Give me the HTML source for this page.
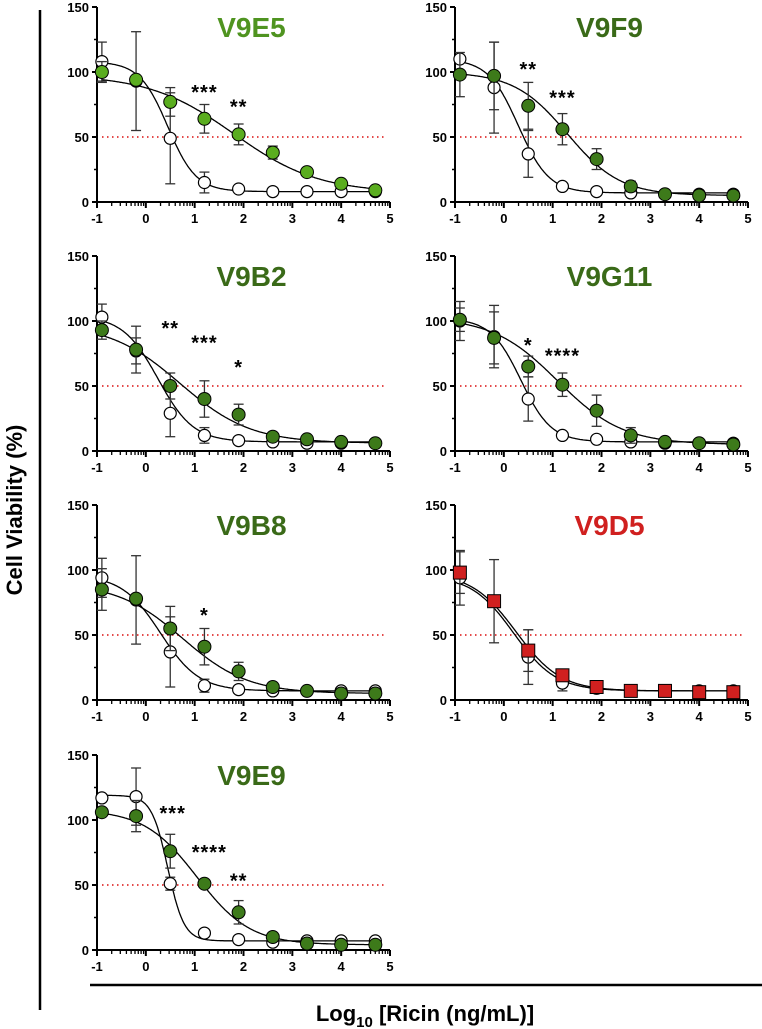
<!DOCTYPE html>
<html><head><meta charset="utf-8">
<style>
html,body{margin:0;padding:0;background:#fff;}
svg{display:block;font-family:"Liberation Sans",Arial,sans-serif;}
</style></head>
<body>
<svg id="fig" width="762" height="1029" viewBox="0 0 762 1029" xmlns="http://www.w3.org/2000/svg">
<line x1="40" y1="10" x2="40" y2="1010" stroke="#000" stroke-width="2.5"/>
<line x1="90" y1="985" x2="762" y2="985" stroke="#000" stroke-width="2.5"/>
<text x="22" y="510" transform="rotate(-90 22 510)" text-anchor="middle" font-size="22" font-weight="bold">Cell Viability (%)</text>
<text x="425" y="1021" text-anchor="middle" font-size="22" font-weight="bold">Log<tspan font-size="15" dy="6">10</tspan><tspan dy="-6"> [Ricin (ng/mL)]</tspan></text>
</svg>
<script>
const xVals=[-0.9,-0.2,0.5,1.2,1.9,2.6,3.3,4.0,4.7];
const yTicks=[0,50,100,150];
const xTicks=[-1,0,1,2,3,4,5];
const panelNames=["V9E5","V9F9","V9B2","V9G11","V9B8","V9D5","V9E9"];
const ctrlE5=[108,93,49,15,10,8,8,8,8];
const ctrlE5Err=[15,38,35,8,0,0,0,0,0];
const trtE5=[100,94,77,64,52,38,23,14,9];
const trtE5Err=[8,0,11,11,8,5,0,0,0];
const ctrlF9=[110,88,37,12,8,7,6,6,6];
const ctrlF9Err=[0,35,18,0,0,0,0,0,0];
const trtF9=[98,97,74,56,33,12,6,5,5];
const trtF9Err=[17,26,18,12,8,4,0,0,0];
const ctrlB2=[103,77,29,12,8,7,6,6,6];
const ctrlB2Err=[10,10,18,6,0,0,0,0,0];
const trtB2=[93,78,50,40,28,11,9,7,6];
const trtB2Err=[7,18,10,14,8,0,0,0,0];
const ctrlG11=[100,88,40,12,9,7,6,6,6];
const ctrlG11Err=[15,24,17,0,0,0,0,0,0];
const trtG11=[101,87,65,51,31,12,7,6,5];
const trtG11Err=[9,20,8,9,12,6,0,0,0];
const ctrlB8=[94,77,37,11,8,7,7,7,7];
const ctrlB8Err=[15,34,27,5,0,0,0,0,0];
const trtB8=[85,78,55,41,22,10,7,5,5];
const trtB8Err=[16,0,17,14,7,0,0,0,0];
const ctrlD5=[94,76,33,13,9,7,7,7,7];
const ctrlD5Err=[21,32,21,6,0,0,0,0,0];
const trtD5=[98,76,38,19,10,7,7,6,6];
const trtD5Err=[16,0,16,0,0,0,0,0,0];
const ctrlE9=[117,118,51,13,8,6,7,7,7];
const ctrlE9Err=[0,22,5,0,0,0,0,0,0];
const trtE9=[106,103,76,51,29,10,5,4,4];
const trtE9Err=[0,12,13,0,9,0,0,0,0];
// 4PL fits: [top, bottom, logEC50, hill]
const ctrlFits=[[108,8,0.45,1.5],[110,7,0.3,1.4],[104,7,0.25,1.2],[102,7,0.35,1.4],[96,7,0.3,1.1],[96,7,0.2,1.0],[119,7,0.45,2.6]];
const trtFits=[[98,7,1.8,0.5],[100,5,1.3,0.8],[98,6,0.7,0.6],[103,5,1.1,0.65],[90,5,0.75,0.65],[98,7,0.25,0.95],[108,4,1.05,0.8]];
const starLabels=[["***","**"],["**","***"],["**","***","*"],["*","****"],["*"],[],["***","****","**"]];
const starX=[[1.2,1.9],[0.5,1.2],[0.5,1.2,1.9],[0.5,1.2],[1.2],[],[0.55,1.3,1.9]];
const starY=[[86,75],[104,82],[96,85,66],[83,75],[67],[],[107,77,55]];
const ctrlSets=[ctrlE5,ctrlF9,ctrlB2,ctrlG11,ctrlB8,ctrlD5,ctrlE9];
const ctrlErrs=[ctrlE5Err,ctrlF9Err,ctrlB2Err,ctrlG11Err,ctrlB8Err,ctrlD5Err,ctrlE9Err];
const trtSets=[trtE5,trtF9,trtB2,trtG11,trtB8,trtD5,trtE9];
const trtErrs=[trtE5Err,trtF9Err,trtB2Err,trtG11Err,trtB8Err,trtD5Err,trtE9Err];

const NS="http://www.w3.org/2000/svg";
const svg=document.getElementById('fig');
function mk(tag,attrs,parent){const e=document.createElementNS(NS,tag);for(const k in attrs)e.setAttribute(k,attrs[k]);(parent||svg).appendChild(e);return e;}

panelNames.forEach((name,i)=>{
  const col=i%2,row=Math.floor(i/2);
  const x0=col?455:97, x1=col?748:390;
  const yz=[202,451,700,950][row], yt=yz-195;
  const sx=v=>x0+(v+1)/6*(x1-x0);
  const sy=v=>yz+(v/150)*(yt-yz);
  const g=mk('g',{});
  
  
  const isRed=name==="V9D5", isLight=name==="V9E5";
  const titleCol=isRed?'#d0201f':(isLight?'#4f9420':'#3a6a18');
  const fillCol=isRed?'#d0201f':(isLight?'#5aad1f':'#3d7a1a');
  const ya=mk('line',{x1:x0,y1:yt,x2:x0,y2:yz,stroke:'#000','stroke-width':2},g);
  
  const xa=mk('line',{x1:x0,y1:yz,x2:x1,y2:yz,stroke:'#000','stroke-width':2},g);
  
  yTicks.forEach(t=>{
    mk('line',{x1:x0-5,y1:sy(t),x2:x0,y2:sy(t),stroke:'#000','stroke-width':2},g);
    const tl=mk('text',{x:x0-8,y:sy(t)+5,'text-anchor':'end','font-size':13,'font-weight':'bold'},g);
    tl.textContent=t;
    
    if(t<150) mk('line',{x1:x0-3,y1:sy(t+25),x2:x0,y2:sy(t+25),stroke:'#000','stroke-width':1.5},g);
  });
  xTicks.forEach(t=>{
    mk('line',{x1:sx(t),y1:yz,x2:sx(t),y2:yz+6,stroke:'#000','stroke-width':2},g);
    const tl=mk('text',{x:sx(t),y:yz+21,'text-anchor':'middle','font-size':13,'font-weight':'bold'},g);
    tl.textContent=t;
    
    if(t<5) for(let m=2;m<10;m++) mk('line',{x1:sx(t+Math.log10(m)),y1:yz,x2:sx(t+Math.log10(m)),y2:yz+4,stroke:'#000','stroke-width':1.3},g);
  });
  const ref=mk('line',{x1:x0+5,y1:sy(50),x2:x1-5,y2:sy(50),stroke:'#e03030','stroke-width':1.8,'stroke-dasharray':'1.5 3.5'},g);
  
  const tt=mk('text',{x:(x0+x1)/2+8,y:yt+30,'text-anchor':'middle','font-size':28,'font-weight':'bold',fill:titleCol},g);
  tt.textContent=name;
  
  [ctrlFits[i],trtFits[i]].forEach((p,k)=>{
    let d='';
    for(let v=-0.9;v<=4.71;v+=0.02){const y=p[1]+(p[0]-p[1])/(1+Math.pow(10,(v-p[2])*p[3]));d+=(d?'L':'M')+sx(v).toFixed(1)+','+sy(y).toFixed(1);}
    const c=mk('path',{d:d,fill:'none',stroke:'#000','stroke-width':1.3},g);
    
  });
  const drawSet=(vals,errs,isCtrl)=>{
    vals.forEach((v,j)=>{
      const e=errs[j];
      if(e>0){
        mk('line',{x1:sx(xVals[j]),y1:sy(v-e),x2:sx(xVals[j]),y2:sy(v+e),stroke:'#333','stroke-width':1.3},g);
        [v-e,v+e].forEach(yy=>mk('line',{x1:sx(xVals[j])-5,y1:sy(yy),x2:sx(xVals[j])+5,y2:sy(yy),stroke:'#333','stroke-width':1.3},g));
      }
    });
    vals.forEach((v,j)=>{
      let m;
      if(isCtrl){m=mk('circle',{cx:sx(xVals[j]),cy:sy(v),r:6,fill:'#fff',stroke:'#000','stroke-width':1.2},g);}
      else if(isRed){m=mk('rect',{x:sx(xVals[j])-6.5,y:sy(v)-6.5,width:13,height:13,fill:fillCol,stroke:'#000','stroke-width':1},g);}
      else{m=mk('circle',{cx:sx(xVals[j]),cy:sy(v),r:6.5,fill:fillCol,stroke:'#000','stroke-width':1},g);}
      
      
    });
  };
  drawSet(ctrlSets[i],ctrlErrs[i],true);
  drawSet(trtSets[i],trtErrs[i],false);
  starLabels[i].forEach((s,k)=>{
    const st=mk('text',{x:sx(starX[i][k]),y:sy(starY[i][k])+9,'text-anchor':'middle','font-size':20,'font-weight':'bold','letter-spacing':'1'},g);
    st.textContent=s;
    
  });
});
</script>
</body></html>
